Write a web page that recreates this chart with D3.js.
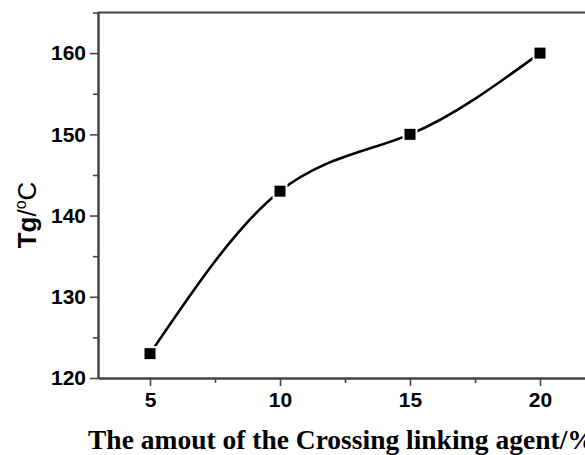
<!DOCTYPE html>
<html>
<head>
<meta charset="utf-8">
<script src="https://cdn.jsdelivr.net/npm/d3@7"></script>
<style>
  html, body { margin: 0; padding: 0; background: #fff; }
  svg { display: block; }
</style>
</head>
<body>
<svg id="chart" width="585" height="455"></svg>
<script>
// Glass transition temperature vs. amount of cross-linking agent
const agentAmount = [5, 10, 15, 20];          // %
const tgValues    = [123, 143, 150, 160];     // °C
const xMajorTicks = [5, 10, 15, 20];
const xMinorTicks = [7.5, 12.5, 17.5];
const yMajorTicks = [120, 130, 140, 150, 160];
const yMinorTicks = [125, 135, 145, 155, 165];

const svg = d3.select("#chart");
const plotLeft = 98, plotRight = 592, plotTop = 12.5, plotBottom = 378;

const x = d3.scaleLinear().domain([3, 22]).range([plotLeft, plotRight]);
const y = d3.scaleLinear().domain([120, 165]).range([plotBottom, plotTop]);

const axisColor = "#444";
const labelFont = "'Liberation Sans', Arial, sans-serif";

// frame: top and right borders
svg.append("line")
  .attr("x1", plotLeft).attr("x2", plotRight).attr("y1", plotTop).attr("y2", plotTop)
  .attr("stroke", axisColor).attr("stroke-width", 2);
svg.append("line")
  .attr("x1", plotRight).attr("x2", plotRight).attr("y1", plotTop).attr("y2", plotBottom)
  .attr("stroke", axisColor).attr("stroke-width", 2);

function styleAxis(g) {
  g.select(".domain").attr("stroke", axisColor).attr("stroke-width", 2);
  g.selectAll(".tick line").attr("stroke", axisColor).attr("stroke-width", 1.6);
  g.selectAll(".tick text")
    .attr("fill", "#000")
    .style("font-family", labelFont)
    .style("font-weight", "bold")
    .style("font-size", "21px");
}

// x axis
const gxMinor = svg.append("g").attr("transform", `translate(0,${plotBottom})`)
  .call(d3.axisBottom(x).tickValues(xMinorTicks).tickSize(5).tickSizeOuter(0).tickFormat(""));
styleAxis(gxMinor);
const gx = svg.append("g").attr("transform", `translate(0,${plotBottom})`)
  .call(d3.axisBottom(x).tickValues(xMajorTicks).tickSize(8).tickSizeOuter(0).tickPadding(6));
styleAxis(gx);

// y axis
const gyMinor = svg.append("g").attr("transform", `translate(${plotLeft},0)`)
  .call(d3.axisLeft(y).tickValues(yMinorTicks).tickSize(5).tickSizeOuter(0).tickFormat(""));
styleAxis(gyMinor);
const gy = svg.append("g").attr("transform", `translate(${plotLeft},0)`)
  .call(d3.axisLeft(y).tickValues(yMajorTicks).tickSize(8).tickSizeOuter(0).tickPadding(4));
styleAxis(gy);

// smooth curve through the data
const pts = agentAmount.map((d, i) => [d, tgValues[i]]);
const line = d3.line().x(d => x(d[0])).y(d => y(d[1])).curve(d3.curveNatural);
svg.append("path")
  .attr("d", line(pts))
  .attr("fill", "none")
  .attr("stroke", "#000")
  .attr("stroke-width", 2.6);

// square markers with a white halo so the line breaks around them
const ms = 11;
svg.selectAll("rect.marker")
  .data(pts)
  .join("rect")
  .attr("class", "marker")
  .attr("x", d => x(d[0]) - ms / 2)
  .attr("y", d => y(d[1]) - ms / 2)
  .attr("width", ms).attr("height", ms)
  .attr("fill", "#000")
  .attr("stroke", "#fff")
  .attr("stroke-width", 4)
  .attr("paint-order", "stroke");

// y axis title
const yTitle = svg.append("text")
  .attr("transform", "translate(36,215) rotate(-90)")
  .attr("text-anchor", "middle")
  .style("font-family", labelFont)
  .style("font-size", "26px")
  .attr("fill", "#000");
yTitle.append("tspan").style("font-weight", "bold").text("Tg");
yTitle.append("tspan").text("/");
yTitle.append("tspan").attr("dy", -10).style("font-size", "16px").text("o");
yTitle.append("tspan").attr("dy", 10).text("C");

// x axis title
svg.append("text")
  .attr("x", 88).attr("y", 449)
  .style("font-family", "'Liberation Serif', 'Times New Roman', serif")
  .style("font-weight", "bold")
  .style("font-size", "27.5px")
  .attr("fill", "#000")
  .text("The amout of the Crossing linking agent/%");
</script>
</body>
</html>
